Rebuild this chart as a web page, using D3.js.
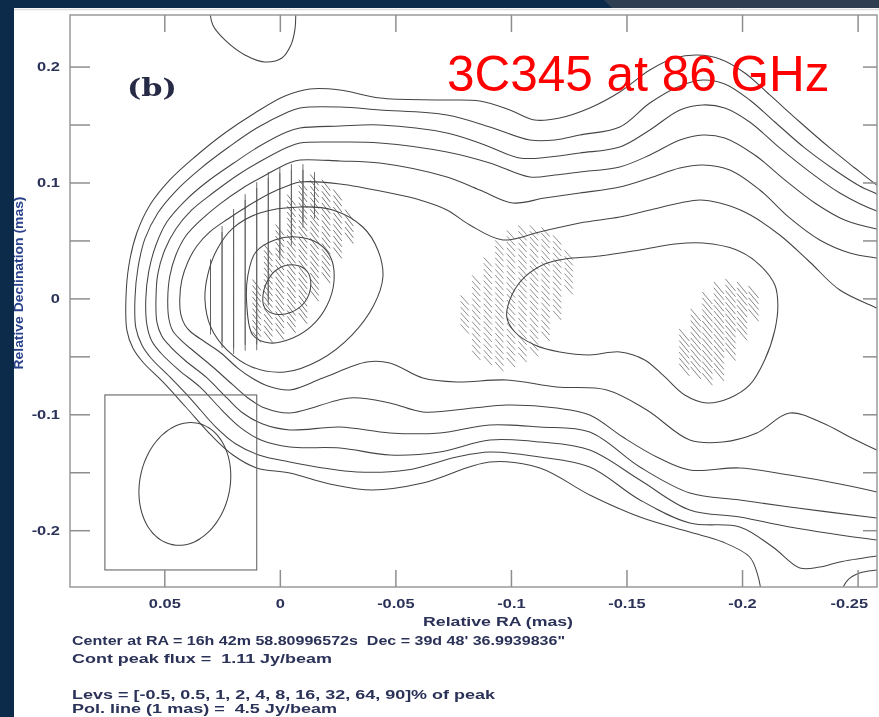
<!DOCTYPE html>
<html>
<head>
<meta charset="utf-8">
<script src="https://cdn.jsdelivr.net/npm/d3@7"></script>
<style>
  html, body { margin: 0; padding: 0; background: #0c2b4b; }
  svg { display: block; }
  text { white-space: pre; }
</style>
</head>
<body>
<svg id="chart" width="879" height="717"></svg>
<script>
// ---- axis ticks (relative RA / Dec, mas) ----
const xTickValues = [0.05, 0, -0.05, -0.1, -0.15, -0.2, -0.25];
const xTickLabels = ["0.05", "0", "-0.05", "-0.1", "-0.15", "-0.2", "-0.25"];
const yTickValues = [0.2, 0.1, 0, -0.1, -0.2];
const yTickLabels = ["0.2", "0.1", "0", "-0.1", "-0.2"];
const yMinorTicks = [0.15, 0.05, -0.05, -0.15];

// ---- total intensity contours, points are [relative RA, relative Dec] in mas ----
const levNeg05 = [[0.0303,0.2488],[0.0290,0.2359],[0.0238,0.2230],[0.0151,0.2100],[0.0065,0.2040],[-0.0009,0.2074],[-0.0048,0.2186],[-0.0065,0.2316],[-0.0069,0.2488]];

const lev05 = [[-0.2617,0.0935],[-0.2583,0.0978],[-0.2488,0.1125],[-0.2380,0.1298],[-0.2250,0.1522],[-0.2120,0.1755],[-0.2012,0.1945],[-0.1904,0.2066],[-0.1804,0.2100],[-0.1709,0.2074],[-0.1601,0.1971],[-0.1471,0.1781],[-0.1341,0.1643],[-0.1211,0.1557],[-0.1103,0.1539],[-0.0995,0.1626],[-0.0865,0.1703],[-0.0692,0.1712],[-0.0433,0.1729],[-0.0260,0.1798],[-0.0130,0.1807],[-0.0022,0.1746],[0.0108,0.1600],[0.0238,0.1427],[0.0368,0.1220],[0.0476,0.1022],[0.0562,0.0806],[0.0619,0.0564],[0.0653,0.0288],[0.0666,-0.0005],[0.0662,-0.0273],[0.0636,-0.0428],[0.0593,-0.0549],[0.0506,-0.0721],[0.0407,-0.0937],[0.0294,-0.1187],[0.0203,-0.1351],[0.0100,-0.1463],[-0.0043,-0.1506],[-0.0216,-0.1601],[-0.0402,-0.1653],[-0.0619,-0.1593],[-0.0909,-0.1412],[-0.1125,-0.1463],[-0.1341,-0.1696],[-0.1558,-0.1886],[-0.1774,-0.2016],[-0.1917,-0.2102],[-0.2033,-0.2231],[-0.2068,-0.2387],[-0.2085,-0.2559]];
const lev05Corner = [[-0.2423,-0.2559],[-0.2457,-0.2430],[-0.2509,-0.2369],[-0.2583,-0.2343],[-0.2617,-0.2335]];

const lev1 = [[-0.2617,0.0866],[-0.2583,0.0901],[-0.2509,0.0970],[-0.2401,0.1108],[-0.2271,0.1298],[-0.2142,0.1522],[-0.2033,0.1712],[-0.1925,0.1850],[-0.1830,0.1884],[-0.1731,0.1833],[-0.1601,0.1686],[-0.1471,0.1479],[-0.1298,0.1410],[-0.1190,0.1367],[-0.1082,0.1367],[-0.0909,0.1479],[-0.0723,0.1582],[-0.0433,0.1626],[-0.0260,0.1651],[-0.0087,0.1643],[-0.0026,0.1600],[0.0100,0.1470],[0.0221,0.1306],[0.0346,0.1116],[0.0446,0.0935],[0.0528,0.0737],[0.0584,0.0513],[0.0614,0.0262],[0.0627,-0.0005],[0.0623,-0.0255],[0.0597,-0.0402],[0.0558,-0.0514],[0.0476,-0.0678],[0.0381,-0.0877],[0.0277,-0.1110],[0.0190,-0.1256],[0.0091,-0.1351],[-0.0043,-0.1412],[-0.0186,-0.1463],[-0.0333,-0.1498],[-0.0549,-0.1481],[-0.0766,-0.1368],[-0.0909,-0.1325],[-0.1125,-0.1368],[-0.1341,-0.1455],[-0.1558,-0.1739],[-0.1774,-0.1938],[-0.1990,-0.1972],[-0.2133,-0.2145],[-0.2250,-0.2326],[-0.2336,-0.2318],[-0.2423,-0.2274],[-0.2583,-0.2223],[-0.2617,-0.2214]];

const lev2 = [[-0.2617,0.0737],[-0.2583,0.0754],[-0.2423,0.0909],[-0.2293,0.1091],[-0.2163,0.1298],[-0.2033,0.1522],[-0.1925,0.1643],[-0.1830,0.1669],[-0.1731,0.1626],[-0.1601,0.1453],[-0.1471,0.1306],[-0.1298,0.1255],[-0.1168,0.1220],[-0.1038,0.1211],[-0.0887,0.1324],[-0.0723,0.1427],[-0.0433,0.1496],[-0.0260,0.1487],[-0.0087,0.1470],[-0.0030,0.1436],[0.0087,0.1315],[0.0199,0.1168],[0.0316,0.1004],[0.0411,0.0840],[0.0489,0.0659],[0.0536,0.0461],[0.0567,0.0236],[0.0580,-0.0005],[0.0575,-0.0230],[0.0554,-0.0368],[0.0515,-0.0471],[0.0437,-0.0618],[0.0346,-0.0764],[0.0251,-0.0963],[0.0173,-0.1110],[0.0082,-0.1222],[-0.0043,-0.1282],[-0.0260,-0.1291],[-0.0476,-0.1351],[-0.0692,-0.1325],[-0.0909,-0.1222],[-0.1125,-0.1239],[-0.1341,-0.1308],[-0.1558,-0.1567],[-0.1774,-0.1826],[-0.1990,-0.1886],[-0.2206,-0.1972],[-0.2583,-0.2085],[-0.2617,-0.2093]];

const lev4 = [[-0.2617,0.0590],[-0.2583,0.0599],[-0.2444,0.0676],[-0.2315,0.0823],[-0.2185,0.1022],[-0.2055,0.1237],[-0.1925,0.1384],[-0.1830,0.1410],[-0.1731,0.1367],[-0.1601,0.1237],[-0.1471,0.1134],[-0.1298,0.1091],[-0.1190,0.1065],[-0.1082,0.1047],[-0.0909,0.1168],[-0.0723,0.1263],[-0.0433,0.1341],[-0.0260,0.1349],[-0.0087,0.1341],[-0.0035,0.1306],[0.0074,0.1194],[0.0182,0.1065],[0.0290,0.0909],[0.0381,0.0763],[0.0450,0.0599],[0.0498,0.0418],[0.0528,0.0211],[0.0536,-0.0005],[0.0532,-0.0204],[0.0511,-0.0324],[0.0476,-0.0411],[0.0407,-0.0540],[0.0320,-0.0678],[0.0229,-0.0859],[0.0160,-0.0989],[0.0074,-0.1084],[-0.0043,-0.1135],[-0.0260,-0.1110],[-0.0476,-0.1161],[-0.0692,-0.1161],[-0.0909,-0.1092],[-0.1125,-0.1110],[-0.1341,-0.1153],[-0.1558,-0.1455],[-0.1774,-0.1679],[-0.1990,-0.1739],[-0.2206,-0.1800],[-0.2583,-0.1895],[-0.2617,-0.1903]];

const lev8 = [[-0.2617,0.0340],[-0.2583,0.0349],[-0.2466,0.0392],[-0.2336,0.0504],[-0.2206,0.0694],[-0.2077,0.0935],[-0.1947,0.1108],[-0.1830,0.1151],[-0.1731,0.1125],[-0.1601,0.1039],[-0.1471,0.0961],[-0.1298,0.0909],[-0.1146,0.0866],[-0.1008,0.0823],[-0.0865,0.0935],[-0.0723,0.1047],[-0.0433,0.1168],[-0.0260,0.1186],[-0.0087,0.1194],[-0.0039,0.1168],[0.0061,0.1065],[0.0160,0.0953],[0.0260,0.0814],[0.0342,0.0676],[0.0407,0.0538],[0.0450,0.0374],[0.0476,0.0193],[0.0485,-0.0005],[0.0480,-0.0178],[0.0463,-0.0281],[0.0428,-0.0359],[0.0363,-0.0471],[0.0290,-0.0592],[0.0203,-0.0747],[0.0138,-0.0859],[0.0065,-0.0946],[-0.0043,-0.0989],[-0.0303,-0.0859],[-0.0476,-0.0902],[-0.0619,-0.0980],[-0.0835,-0.0946],[-0.0982,-0.0920],[-0.1198,-0.0946],[-0.1341,-0.1006],[-0.1484,-0.1196],[-0.1631,-0.1368],[-0.1774,-0.1481],[-0.1990,-0.1463],[-0.2206,-0.1524],[-0.2423,-0.1601],[-0.2583,-0.1670],[-0.2617,-0.1688]];

const lev16 = [[-0.2617,-0.0117],[-0.2583,-0.0083],[-0.2423,0.0072],[-0.2293,0.0314],[-0.2163,0.0547],[-0.2020,0.0737],[-0.1904,0.0823],[-0.1817,0.0849],[-0.1731,0.0823],[-0.1601,0.0763],[-0.1471,0.0702],[-0.1298,0.0651],[-0.1125,0.0573],[-0.0965,0.0504],[-0.0822,0.0633],[-0.0723,0.0763],[-0.0606,0.0849],[-0.0476,0.0909],[-0.0260,0.0987],[-0.0087,0.1004],[-0.0043,0.0978],[0.0048,0.0901],[0.0138,0.0797],[0.0225,0.0685],[0.0303,0.0573],[0.0359,0.0452],[0.0398,0.0314],[0.0424,0.0159],[0.0433,-0.0005],[0.0428,-0.0143],[0.0411,-0.0230],[0.0385,-0.0290],[0.0324,-0.0376],[0.0255,-0.0471],[0.0182,-0.0601],[0.0121,-0.0687],[0.0052,-0.0756],[-0.0043,-0.0790],[-0.0186,-0.0687],[-0.0376,-0.0549],[-0.0476,-0.0557],[-0.0619,-0.0687],[-0.0766,-0.0721],[-0.0982,-0.0704],[-0.1198,-0.0764],[-0.1415,-0.0790],[-0.1588,-0.0963],[-0.1774,-0.1222],[-0.1917,-0.1239],[-0.2064,-0.1161],[-0.2206,-0.0989],[-0.2349,-0.1075],[-0.2466,-0.1196],[-0.2583,-0.1308],[-0.2617,-0.1334]];

const lev32Core = [[0.0324,-0.0014],[0.0312,0.0202],[0.0273,0.0418],[0.0203,0.0607],[0.0087,0.0737],[-0.0087,0.0789],[-0.0229,0.0763],[-0.0359,0.0616],[-0.0424,0.0418],[-0.0446,0.0185],[-0.0407,-0.0057],[-0.0312,-0.0316],[-0.0173,-0.0531],[-0.0022,-0.0635],[0.0121,-0.0592],[0.0229,-0.0445],[0.0299,-0.0247]];
const lev32Knot = [[-0.0982,-0.0160],[-0.1004,0.0029],[-0.1060,0.0185],[-0.1146,0.0297],[-0.1233,0.0340],[-0.1384,0.0366],[-0.1558,0.0418],[-0.1709,0.0469],[-0.1830,0.0478],[-0.1977,0.0418],[-0.2077,0.0288],[-0.2142,0.0116],[-0.2155,-0.0057],[-0.2142,-0.0273],[-0.2098,-0.0531],[-0.2033,-0.0747],[-0.1947,-0.0859],[-0.1847,-0.0902],[-0.1752,-0.0833],[-0.1666,-0.0678],[-0.1579,-0.0531],[-0.1471,-0.0462],[-0.1341,-0.0488],[-0.1211,-0.0462],[-0.1103,-0.0402],[-0.1017,-0.0290]];
const lev64Core = [[0.0143,-0.0057],[0.0138,0.0202],[0.0104,0.0400],[0.0022,0.0504],[-0.0074,0.0530],[-0.0164,0.0478],[-0.0221,0.0349],[-0.0234,0.0141],[-0.0203,-0.0066],[-0.0138,-0.0238],[-0.0056,-0.0342],[0.0043,-0.0385],[0.0117,-0.0316]];
const lev90Core = [[0.0074,-0.0014],[0.0056,0.0141],[0.0009,0.0254],[-0.0065,0.0288],[-0.0117,0.0236],[-0.0134,0.0116],[-0.0108,-0.0031],[-0.0052,-0.0117],[0.0022,-0.0135],[0.0065,-0.0083]];

const openContours = [levNeg05, lev05, lev05Corner, lev1, lev2, lev4, lev8, lev16];
const closedContours = [lev32Core, lev32Knot, lev64Core, lev90Core];

// ---- polarization vectors: columns on the map grid, [RA, Dec top, Dec bottom] ----
const polCoreNS = [[0.030,0.0288,-0.0273],[0.025,0.0573,-0.0402],[0.020,0.0720,-0.0445],[0.015,0.0849,-0.0445],[0.010,0.0953,-0.0402],[0.005,0.1039,-0.0014],[0.000,0.1082,0.0374],[-0.005,0.1108,0.0504],[-0.010,0.1108,0.0633],[-0.015,0.1039,0.0720]];
const polCoreDiag = [[0.010,0.0116,-0.0359],[0.005,0.0418,-0.0359],[0.000,0.0590,-0.0342],[-0.005,0.0849,-0.0273],[-0.010,0.0978,-0.0186],[-0.015,0.1022,-0.0014],[-0.020,0.0978,0.0159],[-0.025,0.0892,0.0374],[-0.030,0.0720,0.0504]];
const polKnotA = [[-0.080,-0.0014,-0.0273],[-0.085,0.0159,-0.0531],[-0.090,0.0314,-0.0583],[-0.095,0.0461,-0.0601],[-0.100,0.0547,-0.0601],[-0.105,0.0590,-0.0549],[-0.110,0.0590,-0.0462],[-0.115,0.0573,-0.0359],[-0.120,0.0504,-0.0186],[-0.125,0.0374,0.0072]];
const polKnotB = [[-0.175,-0.0316,-0.0635],[-0.180,-0.0143,-0.0687],[-0.185,0.0003,-0.0704],[-0.190,0.0090,-0.0661],[-0.195,0.0116,-0.0531],[-0.200,0.0090,-0.0342],[-0.205,0.0055,-0.0186]];
// EVPA in degrees (north through east), polarized flux in Jy/beam
const polGroups = [
  { runs: polCoreNS,   evpa: 0,  pflux: 0.042, tone: "#5c5c5c" },
  { runs: polCoreDiag, evpa: 38, pflux: 0.050, tone: "#6a6a6a" },
  { runs: polKnotA,    evpa: 42, pflux: 0.045, tone: "#858585" },
  { runs: polKnotB,    evpa: 40, pflux: 0.058, tone: "#7a7a7a" }
];
const mapGridStep = 0.005;     // mas
const polLineScale = 4.5;      // Jy/beam per mas of vector length

// restoring beam (mas, deg) and its box
const beam = { ra: 0.0411, dec: -0.1601, bmaj: 0.107, bmin: 0.039, pa: 12 };
const beamBox = { raLeft: 0.0757, decTop: -0.0833, raRight: 0.0100, decBottom: -0.2343 };

// ---- page text ----
const titleText = "3C345 at 86 GHz";
const panelTag = "(b)";
const xTitle = "Relative RA (mas)";
const yTitle = "Relative Declination (mas)";
const footLines = [
  { text: "Center at RA = 16h 42m 58.80996572s  Dec = 39d 48' 36.9939836\"", y: 645, w: 493, size: 13.5 },
  { text: "Cont peak flux =  1.11 Jy/beam", y: 663, w: 260, size: 13.5 },
  { text: "Levs = [-0.5, 0.5, 1, 2, 4, 8, 16, 32, 64, 90]% of peak", y: 699, w: 423, size: 13.5 },
  { text: "Pol. line (1 mas) =  4.5 Jy/beam", y: 712.5, w: 265, size: 12.5 }
];

// ================= drawing =================
const W = 879, H = 717;
const svg = d3.select("#chart");
const FONT = "'Liberation Sans', Arial, Helvetica, sans-serif";
const INK = "#2b3158";

const defs = svg.append("defs");
defs.append("filter").attr("id", "soft").attr("x", "-5%").attr("y", "-5%").attr("width", "110%").attr("height", "110%")
  .append("feGaussianBlur").attr("stdDeviation", 0.45);
defs.append("filter").attr("id", "softText").attr("x", "-5%").attr("y", "-20%").attr("width", "110%").attr("height", "140%")
  .append("feGaussianBlur").attr("stdDeviation", 0.65);

const plotL = 70, plotT = 15, plotR = 877, plotB = 587;
defs.append("clipPath").attr("id", "plotClip")
  .append("rect").attr("x", plotL).attr("y", plotT).attr("width", plotR - plotL).attr("height", plotB - plotT);

// slide backdrop and white figure panel
svg.append("rect").attr("width", W).attr("height", H).attr("fill", "#0c2b4b");
svg.append("polygon").attr("points", "604,0 879,0 879,8 612,8").attr("fill", "#2f3f51");
svg.append("rect").attr("x", 14).attr("y", 8).attr("width", W - 14).attr("height", H - 8).attr("fill", "#ffffff");
svg.append("line").attr("x1", 14).attr("x2", W).attr("y1", 9.5).attr("y2", 9.5).attr("stroke", "#dcdcdc").attr("stroke-width", 1.5);

const x = d3.scaleLinear().domain([0.0908, -0.2584]).range([plotL, plotR]);
const y = d3.scaleLinear().domain([0.2445, -0.249]).range([plotT, plotB]);

const fig = svg.append("g").attr("filter", "url(#soft)");
const plot = fig.append("g").attr("clip-path", "url(#plotClip)");

// polarization vectors
const pxPerMas = Math.abs(y(1) - y(0));
const vecs = [];
polGroups.forEach(g => {
  const half = g.pflux / polLineScale * pxPerMas / 2;
  const a = g.evpa * Math.PI / 180;
  g.runs.forEach(([ra, top, bot]) => {
    for (let d = top; d >= bot - 1e-9; d -= mapGridStep) {
      const cx = x(ra), cy = y(d);
      vecs.push({ x1: cx - half * Math.sin(a), y1: cy - half * Math.cos(a),
                  x2: cx + half * Math.sin(a), y2: cy + half * Math.cos(a), tone: g.tone });
    }
  });
});
plot.append("g").selectAll("line").data(vecs).join("line")
  .attr("x1", d => d.x1).attr("y1", d => d.y1).attr("x2", d => d.x2).attr("y2", d => d.y2)
  .attr("stroke", d => d.tone).attr("stroke-width", 0.9).attr("stroke-linecap", "round");

// contours
const lineOpen = d3.line().x(d => x(d[0])).y(d => y(d[1])).curve(d3.curveCatmullRom.alpha(0.5));
const lineClosed = d3.line().x(d => x(d[0])).y(d => y(d[1])).curve(d3.curveCatmullRomClosed.alpha(0.5));
const cg = plot.append("g").attr("fill", "none").attr("stroke", "#444").attr("stroke-width", 1.05);
cg.selectAll("path.open").data(openContours).join("path").attr("class", "open").attr("d", lineOpen);
cg.selectAll("path.closed").data(closedContours).join("path").attr("class", "closed").attr("d", lineClosed);

// beam box and beam ellipse
fig.append("rect")
  .attr("x", x(beamBox.raLeft)).attr("y", y(beamBox.decTop))
  .attr("width", x(beamBox.raRight) - x(beamBox.raLeft))
  .attr("height", y(beamBox.decBottom) - y(beamBox.decTop))
  .attr("fill", "none").attr("stroke", "#666").attr("stroke-width", 1.1);
{
  const semiMaj = Math.abs(y(beam.bmaj) - y(0)) / 2;
  const semiMin = Math.abs(x(beam.bmin) - x(0)) / 2;
  const cx = x(beam.ra), cy = y(beam.dec), phi = beam.pa * Math.PI / 180;
  const pts = d3.range(0, 72).map(i => {
    const t = i / 72 * 2 * Math.PI;
    const px = semiMin * Math.cos(t), py = semiMaj * Math.sin(t);
    return [cx + px * Math.cos(phi) - py * Math.sin(phi), cy + px * Math.sin(phi) + py * Math.cos(phi)];
  });
  fig.append("path").attr("d", d3.line().curve(d3.curveCardinalClosed)(pts))
    .attr("fill", "none").attr("stroke", "#444").attr("stroke-width", 1.05);
}

// frame
fig.append("rect").attr("x", plotL).attr("y", plotT).attr("width", plotR - plotL).attr("height", plotB - plotT)
  .attr("fill", "none").attr("stroke", "#9a9a9a").attr("stroke-width", 1.5);

// axes (ticks point inward)
function styleAxis(g) {
  g.select(".domain").remove();
  g.selectAll(".tick line").attr("stroke", "#8e8e8e").attr("stroke-width", 1.5);
  g.selectAll("text").attr("fill", INK).attr("font-family", FONT).attr("font-weight", "bold").attr("font-size", 13.5);
}
function stretch(sel, k) {
  sel.each(function () {
    const w = this.getComputedTextLength();
    if (w > 0) d3.select(this).attr("textLength", w * k).attr("lengthAdjust", "spacingAndGlyphs");
  });
}
const axB = fig.append("g").attr("transform", `translate(0,${plotB})`)
  .call(d3.axisBottom(x).tickValues(xTickValues).tickFormat((d, i) => xTickLabels[i]).tickSizeInner(-17).tickSizeOuter(0).tickPadding(11));
styleAxis(axB);
const axT = fig.append("g").attr("transform", `translate(0,${plotT})`)
  .call(d3.axisTop(x).tickValues(xTickValues).tickFormat("").tickSizeInner(-17).tickSizeOuter(0));
styleAxis(axT);
const axL = fig.append("g").attr("transform", `translate(${plotL},0)`)
  .call(d3.axisLeft(y).tickValues(yTickValues).tickFormat((d, i) => yTickLabels[i]).tickSizeInner(-20).tickSizeOuter(0).tickPadding(10));
styleAxis(axL);
const axLm = fig.append("g").attr("transform", `translate(${plotL},0)`)
  .call(d3.axisLeft(y).tickValues(yMinorTicks).tickFormat("").tickSizeInner(-20).tickSizeOuter(0));
styleAxis(axLm);
const axR = fig.append("g").attr("transform", `translate(${plotR},0)`)
  .call(d3.axisRight(y).tickValues(yTickValues.concat(yMinorTicks)).tickFormat("").tickSizeInner(-14).tickSizeOuter(0));
styleAxis(axR);

// axis and footer texts (slightly soft, horizontally stretched like the plot)
const txt = svg.append("g").attr("filter", "url(#softText)").attr("fill", INK)
  .attr("font-family", FONT).attr("font-weight", "bold");
[axB, axL].forEach(a => {
  const n = a.selectAll("text").size();
  a.selectAll("text").each(function (d, i) {
    const t = d3.select(this);
    // the last RA label is kept inside the frame
    const lastRA = a === axB && i === n - 1;
    txt.append("text").text(t.text())
      .attr("transform", a.attr("transform") + " " + d3.select(this.parentNode).attr("transform"))
      .attr("x", (+t.attr("x") || 0) + (lastRA ? 10 : 0)).attr("y", t.attr("y") || 0).attr("dy", t.attr("dy"))
      .attr("text-anchor", a === axB ? (lastRA ? "end" : "middle") : "end")
      .attr("font-size", 13.5);
  });
  a.selectAll("text").remove();
});
stretch(txt.selectAll("text"), 1.22);

txt.append("text").text(xTitle).attr("x", 423).attr("y", 626).attr("font-size", 13.5)
  .attr("textLength", 150).attr("lengthAdjust", "spacingAndGlyphs");
footLines.forEach(l => {
  txt.append("text").text(l.text).attr("x", 72).attr("y", l.y).attr("font-size", l.size)
    .attr("textLength", l.w).attr("lengthAdjust", "spacingAndGlyphs");
});
txt.append("text").text(yTitle).attr("transform", "translate(23,283) rotate(-90)")
  .attr("text-anchor", "middle").attr("font-size", 13).attr("fill", "#2a428c")
  .attr("textLength", 173).attr("lengthAdjust", "spacingAndGlyphs");
txt.append("text").text(panelTag).attr("x", 127).attr("y", 96)
  .attr("font-family", "'DejaVu Serif', 'Liberation Serif', serif").attr("font-size", 24).attr("fill", "#262a44")
  .attr("textLength", 50).attr("lengthAdjust", "spacingAndGlyphs");

// navy slide strip covers the left margin
svg.append("rect").attr("x", 0).attr("y", 0).attr("width", 14).attr("height", H).attr("fill", "#0c2b4b");

// slide title
svg.append("text").text(titleText).attr("x", 447).attr("y", 91)
  .attr("font-family", FONT).attr("font-size", 49.5).attr("fill", "#ff0000");
</script>
</body>
</html>
